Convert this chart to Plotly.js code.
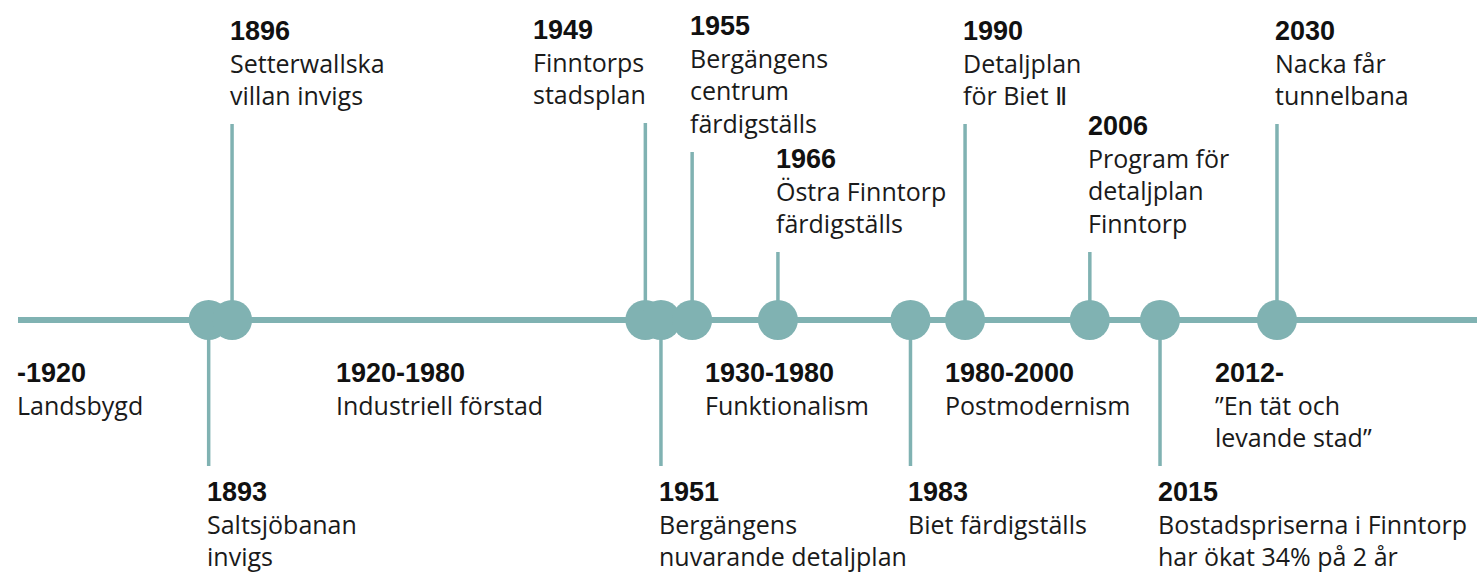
<!DOCTYPE html>
<html><head><meta charset="utf-8">
<script src="https://cdn.plot.ly/plotly-3.0.1.min.js"></script>
<style>html,body{margin:0;padding:0;background:#fff}#chart{width:1477px;height:572px}</style>
</head><body><div id="chart"></div>
<script>
// ---- data ----
const years = [1893, 1896, 1949, 1951, 1955, 1966, 1983, 1990, 2006, 2015, 2030];
const yearLabels = ['1893', '1896', '1949', '1951', '1955', '1966', '1983', '1990', '2006', '2015', '2030'];
const descriptions = [
  ['Saltsjöbanan', 'invigs'],
  ['Setterwallska', 'villan invigs'],
  ['Finntorps', 'stadsplan'],
  ['Bergängens', 'nuvarande detaljplan'],
  ['Bergängens', 'centrum', 'färdigställs'],
  ['Östra Finntorp', 'färdigställs'],
  ['Biet färdigställs'],
  ['Detaljplan', 'för Biet Ⅱ'],
  ['Program för', 'detaljplan', 'Finntorp'],
  ['Bostadspriserna i Finntorp', 'har ökat 34% på 2 år'],
  ['Nacka får', 'tunnelbana']
];
const periodLabels = ['-1920', '1920-1980', '1930-1980', '1980-2000', '2012-'];
const periodDescriptions = [
  ['Landsbygd'],
  ['Industriell förstad'],
  ['Funktionalism'],
  ['Postmodernism'],
  ['”En tät och', 'levande stad”']
];

// ---- layout helpers (positions / styling) ----
const W = 1477, H = 572, LINE_PX = 320;
const py = px => LINE_PX - px;            // y-axis units = pixels above the timeline
const side = ['down', 'up', 'up', 'down', 'up', 'up', 'down', 'up', 'up', 'down', 'up'];
const stemEndPx = [466, 124, 123, 466, 152, 252, 466, 124, 252, 466, 124];
const anchorRight = [false, false, true, false, false, false, false, false, false, false, false];
const periodXpx = [18, 337, 706, 946, 1216];

const TEAL = '#80b2b2';
const TXT = '#1a1a1a';
const REG = 'Open Sans, Noto Sans, sans-serif';
const BOLD = 'Liberation Sans, Arial, sans-serif';

function labelHtml(title, lines) {
  return '<span style="font-family:' + BOLD + ';font-weight:bold;font-size:27px;color:#111">' + title + '</span><br>' +
    lines.join('<br>');
}

// stems
const stemX = [], stemY = [];
years.forEach((yr, i) => {
  stemX.push(yr, yr, null);
  stemY.push(0, py(stemEndPx[i]), null);
});

const traces = [
  {
    x: stemX, y: stemY, mode: 'lines', type: 'scatter', hoverinfo: 'skip',
    line: {color: TEAL, width: 3.5}, showlegend: false
  },
  {
    x: years, y: years.map(() => 0), mode: 'markers', type: 'scatter',
    marker: {size: 40, color: TEAL, line: {width: 0}},
    text: yearLabels, hoverinfo: 'text', showlegend: false
  }
];

const annotations = [];
years.forEach((yr, i) => {
  const up = side[i] === 'up';
  annotations.push({
    x: yr, y: py(stemEndPx[i]), xref: 'x', yref: 'y',
    text: labelHtml(yearLabels[i], descriptions[i]),
    showarrow: false, align: 'left',
    xanchor: anchorRight[i] ? 'right' : 'left',
    yanchor: up ? 'bottom' : 'top',
    xshift: anchorRight[i] ? 2 : -3,
    yshift: up ? 11 : -10,
    borderpad: 0,
    font: {family: REG, size: 25, color: TXT}
  });
});
periodLabels.forEach((p, i) => {
  annotations.push({
    x: periodXpx[i] / W, y: py(357), xref: 'paper', yref: 'y',
    text: labelHtml(p, periodDescriptions[i]),
    showarrow: false, align: 'left', xanchor: 'left', yanchor: 'top',
    borderpad: 0, xshift: -2,
    font: {family: REG, size: 25, color: TXT}
  });
});

const layout = {
  width: W, height: H,
  margin: {l: 0, r: 0, t: 0, b: 0},
  paper_bgcolor: '#fff', plot_bgcolor: '#fff',
  xaxis: {range: [1866.24, 2055.65], visible: false, fixedrange: true},
  yaxis: {range: [py(H), py(0)], visible: false, fixedrange: true},
  shapes: [{
    type: 'line', xref: 'paper', yref: 'y', x0: 18 / W, x1: 1, y0: 0, y1: 0,
    line: {color: TEAL, width: 6}, layer: 'below'
  }],
  annotations: annotations,
  showlegend: false
};

Plotly.newPlot('chart', traces, layout, {staticPlot: true});
</script>
</body></html>
